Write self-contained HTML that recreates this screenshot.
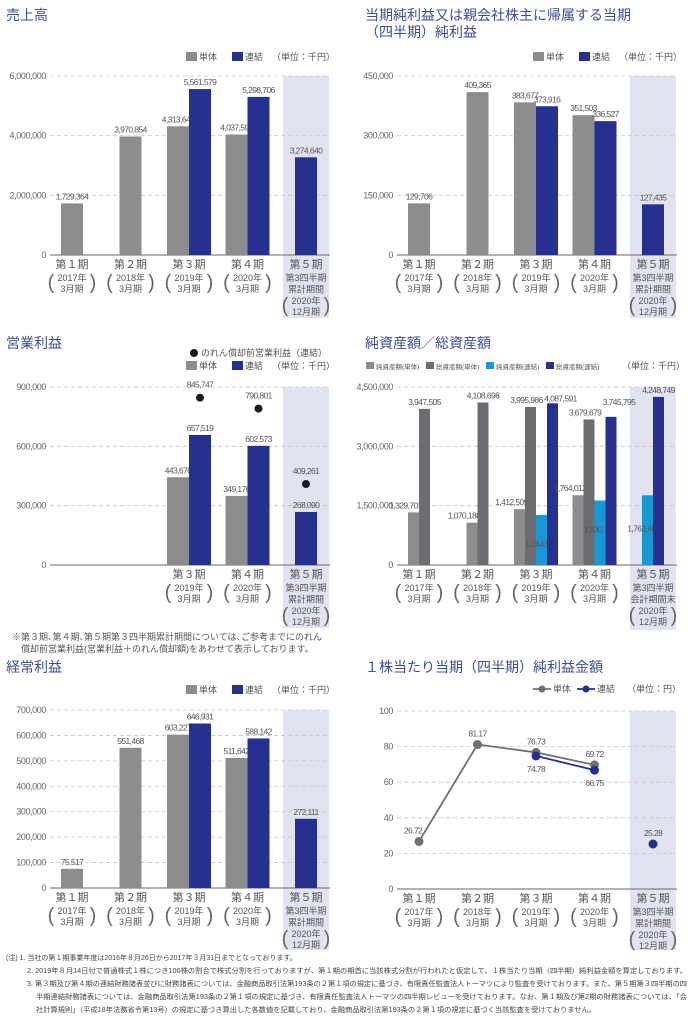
<!DOCTYPE html>
<html><head><meta charset="utf-8">
<style>
html,body{margin:0;padding:0;background:#fff;}
svg{display:block;font-family:"Liberation Sans","Noto Sans CJK JP",sans-serif;}
.t{fill:#3d4e94;font-size:14px;}
.tk{fill:#666;font-size:9px;letter-spacing:-0.4px;}
.v{fill:#555;font-size:8.5px;letter-spacing:-0.6px;}
.lg{fill:#555;font-size:9px;}
.cl{fill:#555;font-size:11px;}
.cs{fill:#555;font-size:9px;}
.nt{fill:#444;font-size:7px;}
</style></head>
<body>
<svg id="page" width="694" height="1024" viewBox="0 0 694 1024" xmlns="http://www.w3.org/2000/svg">
<g id="static">
<text class="t" x="6" y="20">売上高</text>
<text class="t" x="365" y="20">当期純利益又は親会社株主に帰属する当期</text>
<text class="t" x="365" y="37">（四半期）純利益</text>
<text class="t" x="6" y="348">営業利益</text>
<text class="t" x="365" y="348">純資産額／総資産額</text>
<text class="t" x="6" y="672">経常利益</text>
<text class="t" x="365" y="672">１株当たり当期（四半期）純利益金額</text>
<text class="cs" x="12" y="640">※第３期､第４期､第５期第３四半期累計期間については､ご参考までにのれん</text>
<text class="cs" x="21" y="652">償却前営業利益(営業利益＋のれん償却額)をあわせて表示しております。</text>
<text class="nt" x="6" y="960">(注) 1. 当社の第１期事業年度は2016年８月26日から2017年３月31日までとなっております。</text>
<text class="nt" x="27" y="973" textLength="660" lengthAdjust="spacingAndGlyphs">2. 2019年８月14日付で普通株式１株につき100株の割合で株式分割を行っておりますが、第１期の期首に当該株式分割が行われたと仮定して、１株当たり当期（四半期）純利益金額を算定しております。</text>
<text class="nt" x="27" y="986" textLength="660" lengthAdjust="spacingAndGlyphs">3. 第３期及び第４期の連結財務諸表並びに財務諸表については、金融商品取引法第193条の２第１項の規定に基づき、有限責任監査法人トーマツにより監査を受けております。また、第５期第３四半期の四</text>
<text class="nt" x="36" y="999" textLength="651" lengthAdjust="spacingAndGlyphs">半期連結財務諸表については、金融商品取引法第193条の２第１項の規定に基づき、有限責任監査法人トーマツの四半期レビューを受けております。なお、第１期及び第2期の財務諸表については、「会</text>
<text class="nt" x="36" y="1012" textLength="560" lengthAdjust="spacingAndGlyphs">社計算規則」（平成18年法務省令第13号）の規定に基づき算出した各数値を記載しており、金融商品取引法第193条の２第１項の規定に基づく当該監査を受けておりません。</text>
</g>
</svg>
<script>
// ---- data ----
const periods = ["第１期","第２期","第３期","第４期","第５期"];
const years = ["2017年","2018年","2019年","2020年","2020年"];
const salesTick = [0,2000000,4000000,6000000];
const salesSolo = [1729364,3970854,4313647,4037598,null];
const salesCons = [null,null,5561579,5298706,3274640];
const niTick = [0,150000,300000,450000];
const niSolo = [129706,409365,383677,351503,null];
const niCons = [null,null,373916,336527,127435];
const opTick = [0,300000,600000,900000];
const opSolo = [null,null,443676,349176,null];
const opCons = [null,null,657519,602573,268090];
const opPre = [null,null,845747,790801,409261];
const asTick = [0,1500000,3000000,4500000];
const netSolo = [1329701,1070188,1412509,1764012,null];
const totSolo = [3947505,4108698,3995986,3679679,null];
const netCons = [null,null,1264933,1630726,1762407];
const totCons = [null,null,4087591,3745795,4248749];
const ordTick = [0,100000,200000,300000,400000,500000,600000,700000];
const ordSolo = [75517,551468,603227,511642,null];
const ordCons = [null,null,646931,588142,272111];
const epsTick = [0,20,40,60,80,100];
const epsSolo = [26.72,81.17,76.73,69.72,null];
const epsCons = [null,null,74.78,66.75,25.28];
// the quarterly period (index 4) is plotted as a standalone point
const annualPeriod = [true,true,true,true,false];

const GRAY="#8b8c8e", DGRAY="#6c6d70", NAVY="#26318f", CYAN="#1a98d5", BAND="#e2e3f0";
const svg=document.getElementById('page');
const NS="http://www.w3.org/2000/svg";
function el(tag,attrs,parent,txt){const e=document.createElementNS(NS,tag);for(const k in attrs)e.setAttribute(k,attrs[k]);if(txt!==undefined)e.textContent=txt;(parent||svg).appendChild(e);return e;}
function fmt(v,d){return d?v.toFixed(d):v.toLocaleString('en-US');}

function frame(ox,top,zero,max,ticks,bandBottom,sub5,showCats){
  const g=el('g',{});
  
  
  const band=el('rect',{x:ox+283,y:top,width:46,height:bandBottom-top,fill:BAND},g);
  
  
  const y=v=>zero-(v/max)*(zero-top);
  ticks.forEach(t=>{
    if(t>0){const ln=el('line',{x1:ox+50,x2:ox+330,y1:y(t),y2:y(t),stroke:"#c8c8c8","stroke-dasharray":"4,3","stroke-width":0.8},g);
      
      }
    const tx=el('text',{class:'tk',x:ox+46,y:y(t)+3,'text-anchor':'end'},g,fmt(t,0));
    
    
  });
  const ax=el('line',{x1:ox+50,x2:ox+330,y1:zero,y2:zero,stroke:"#666","stroke-width":1},g);
  
  
  periods.forEach((p,i)=>{
    if(!showCats[i])return;
    const cx=ox+72+i*58.5;
    const a=el('text',{class:'cl',x:cx,y:zero+13,'text-anchor':'middle'},g,p);
    
    
    let yy=zero+26;
    if(i===4){sub5.forEach(s=>{const b=el('text',{class:'cs',x:cx,y:yy,'text-anchor':'middle'},g,s);yy+=11.5;});}
    const l1=el('text',{class:'cs',x:cx,y:yy,'text-anchor':'middle'},g,years[i]);
    
    
    const l2=el('text',{class:'cs',x:cx,y:yy+11,'text-anchor':'middle'},g,i===4?"12月期":"3月期");
    
    
    [['(',cx-21],[')',cx+21]].forEach(([c,px])=>{const pp=el('text',{x:px,y:yy+8,'text-anchor':'middle',fill:'#666','font-size':'20px','font-weight':'100'},g,c);});
  });
  return y;
}

function bars(ox,y,zero,seriesList,colors,bw,labelOffsets){
  for(let i=0;i<5;i++){
    const present=seriesList.map((s,k)=>k).filter(k=>seriesList[k][i]!=null);
    const cx=ox+72+i*58.5;
    const start=cx-present.length*bw/2;
    present.forEach((k,j)=>{
      const v=seriesList[k][i];
      const r=el('rect',{x:start+j*bw,y:y(v),width:bw,height:zero-y(v),fill:colors[k]});
      
      
      const off=labelOffsets?labelOffsets(k,i):[0,-4];
      const t=el('text',{class:'v',x:start+j*bw+bw/2+off[0],y:y(v)+off[1],'text-anchor':'middle'},undefined,fmt(v,0));
      
      
    });
  }
}

function legend(items,x,yy,unit){
  let cx=x;
  items.forEach(([c,lab,w])=>{
    const r=el('rect',{x:cx,y:yy-8,width:11,height:9,fill:c});
    
    
    const t=el('text',{class:'lg',x:cx+13,y:yy},undefined,lab);
    
    
    cx+=w;
  });
  const u=el('text',{class:'lg',x:cx+2,y:yy},undefined,unit);
  
  
}

const all=[1,1,1,1,1], sub=["第3四半期","累計期間"];
let y1=frame(0,76,255,6000000,salesTick,318,sub,all);
bars(0,y1,255,[salesSolo,salesCons],[GRAY,NAVY],22);
legend([[GRAY,"単体",46],[NAVY,"連結",38]],186,60,"（単位：千円）");
let y2=frame(347,76,255,450000,niTick,318,sub,all);
bars(347,y2,255,[niSolo,niCons],[GRAY,NAVY],22);
legend([[GRAY,"単体",46],[NAVY,"連結",38]],533,60,"（単位：千円）");
let y3=frame(0,387,565,900000,opTick,628,sub,[0,0,1,1,1]);
bars(0,y3,565,[opSolo,opCons],[GRAY,NAVY],22);
opPre.forEach((v,i)=>{ if(v==null)return;
  const cx=72+i*58.5+(i===4?0:11);
  const c=el('circle',{cx:cx,cy:y3(v),r:4,fill:'#1a1a1a'});
  
  
  const t=el('text',{class:'v',x:cx,y:y3(v)-10,'text-anchor':'middle'},undefined,fmt(v,0));
  
  
});
{const c=el('circle',{cx:194,cy:353,r:4,fill:'#1a1a1a'});
const t=el('text',{class:'lg',x:201,y:356},undefined,"のれん償却前営業利益（連結）");}
legend([[GRAY,"単体",46],[NAVY,"連結",38]],186,369,"（単位：千円）");
let y4=frame(347,387,565,4500000,asTick,630,["第3四半期","会計期間末"],all);
bars(347,y4,565,[netSolo,totSolo,netCons,totCons],[GRAY,DGRAY,CYAN,NAVY],11,(k,i)=>{
  if(k===1&&i===3)return[-4,-4]; if(k===3&&i===3)return[8,-12];
  if(k===3&&i===2)return[8,-2]; if(k===1&&i===2)return[-4,-4];
  if(k===2&&i<4)return[0,32]; if(k===2&&i===4)return[-4,36];
  if(k===0)return[-8,-4]; return[0,-4];});
{let cx=366;[[GRAY,"純資産額(単体)"],[DGRAY,"総資産額(単体)"],[CYAN,"純資産額(連結)"],[NAVY,"総資産額(連結)"]].forEach(([c,l])=>{
  const r=el('rect',{x:cx,y:362,width:8,height:7,fill:c});
  const t=el('text',{x:cx+10,y:369,fill:'#555','font-size':'6.5px'},undefined,l);
  cx+=60;});
 const u=el('text',{class:'lg',x:622,y:369},undefined,"（単位：千円）");}
let y5=frame(0,710,888,700000,ordTick,950,sub,all);
bars(0,y5,888,[ordSolo,ordCons],[GRAY,NAVY],22);
legend([[GRAY,"単体",46],[NAVY,"連結",38]],186,693,"（単位：千円）");
let y6=frame(347,711,889,100,epsTick,950,sub,all);
function line(data,color,name,labOff){
  const pts=data.map((v,i)=>v==null?null:[347+72+i*58.5,y6(v),v,i]);
  for(let i=1;i<pts.length;i++){
    if(pts[i]&&pts[i-1]&&annualPeriod[i]&&annualPeriod[i-1]){
      const s=el('line',{x1:pts[i-1][0],y1:pts[i-1][1],x2:pts[i][0],y2:pts[i][1],stroke:color,'stroke-width':1.8});
      
      
    }
  }
  pts.forEach(p=>{ if(!p)return;
    const c=el('circle',{cx:p[0],cy:p[1],r:4.5,fill:color});
    
    
    const o=labOff(p[3]);
    const t=el('text',{class:'v','font-size':'10px',x:p[0]+o[0],y:p[1]+o[1],'text-anchor':'middle'},undefined,fmt(p[2],2));
    
    });
}
line(epsSolo,'#6f7072','eps-solo',i=>i===0?[-6,-8]:[0,-8]);
line(epsCons,NAVY,'eps-consolidated',i=>i===4?[0,-8]:[0,16]);
{let cx=533;[['#6f7072',"単体"],[NAVY,"連結"]].forEach(([c,l])=>{
  const ln=el('line',{x1:cx,x2:cx+18,y1:689,y2:689,stroke:c,'stroke-width':1.8});
  const d=el('circle',{cx:cx+9,cy:689,r:3.5,fill:c});
  const t=el('text',{class:'lg',x:cx+20,y:692},undefined,l);
  cx+=44;});
 const u=el('text',{class:'lg',x:627,y:692},undefined,"（単位：円）");}
</script>
</body></html>
